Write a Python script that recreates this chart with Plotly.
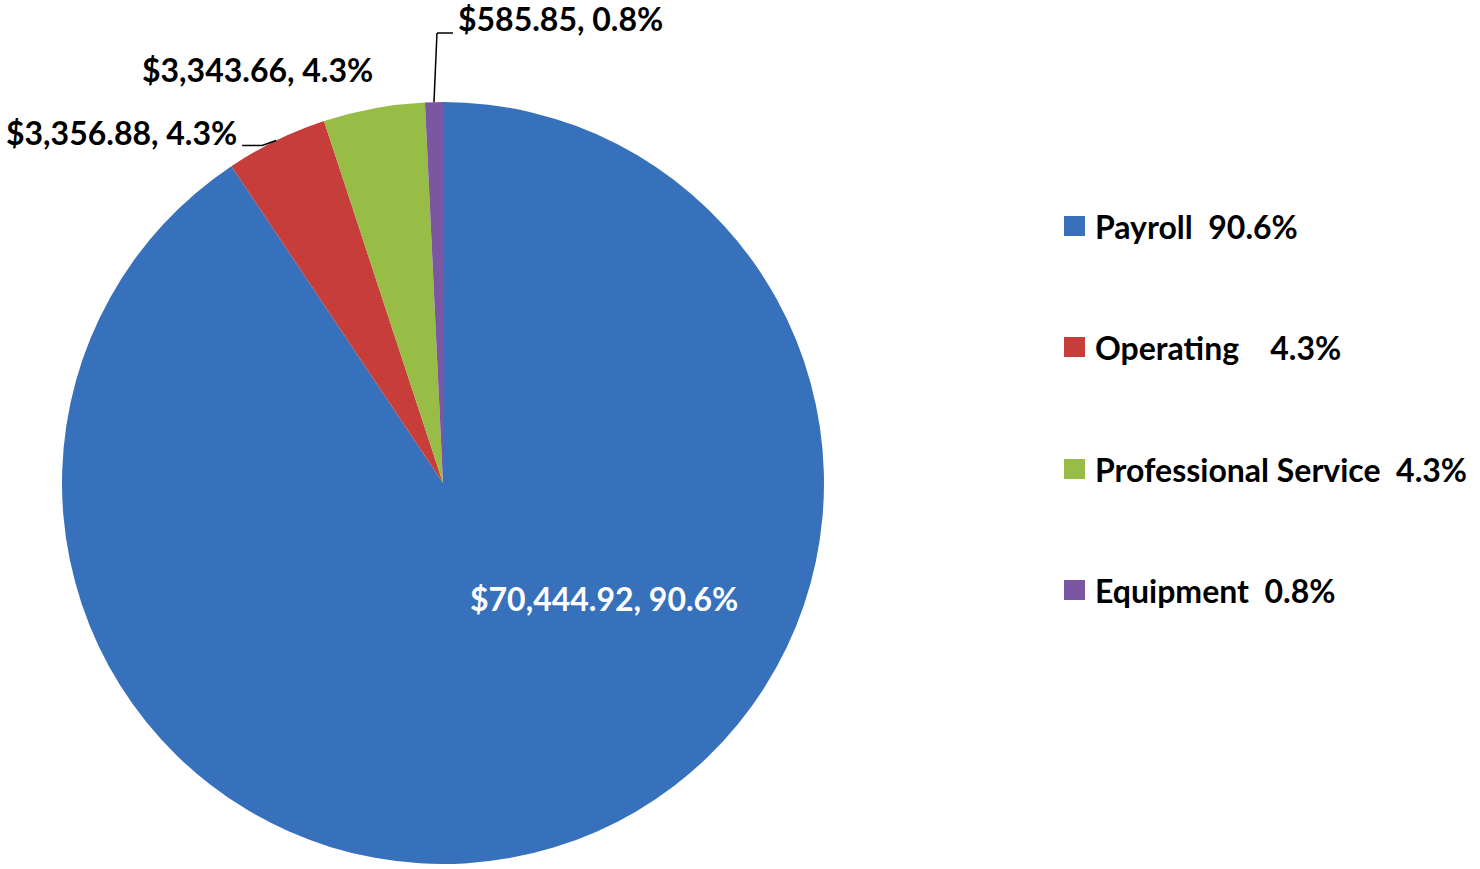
import math
import plotly.graph_objects as go

# budget breakdown
categories = ["Payroll", "Operating", "Professional Service", "Equipment"]
amounts = [70444.92, 3356.88, 3343.66, 585.85]
pct_labels = ["90.6%", "4.3%", "4.3%", "0.8%"]
legend_gaps = ["\u00a0\u00a0", "\u00a0\u00a0\u00a0\u00a0", "\u00a0\u00a0", "\u00a0\u00a0"]
colors = ["#3771BC", "#C63D3A", "#97BD47", "#7A56A3"]

W, H = 1480, 869
cx, cy, R = 443, 483, 381
FONT = "Lato"
FS = 32


def px(x, y):
    return x / W, 1 - y / H


def edge(frac, r=R):
    t = 2 * math.pi * frac
    return cx + r * math.sin(t), cy - r * math.cos(t)


def label(x, y, text, anchor, color="black"):
    p = px(x, y)
    return dict(x=p[0], y=p[1], text=text, showarrow=False,
                xanchor=anchor, yanchor="middle",
                font=dict(color=color, size=FS, family=FONT, weight="bold"))


def leader(pts):
    out = []
    for (ax, ay), (bx, by) in zip(pts[:-1], pts[1:]):
        p, q = px(ax, ay), px(bx, by)
        out.append(dict(type="line", xref="paper", yref="paper", x0=p[0], y0=p[1],
                        x1=q[0], y1=q[1], line=dict(color="black", width=1.5)))
    return out


total = sum(amounts)
mids = []
acc = 0
for a in amounts:
    mids.append((acc + a / 2) / total)
    acc += a

x0, y1 = px(cx - R, cy - R)
x1, y0 = px(cx + R, cy + R)

fig = go.Figure()
fig.add_trace(go.Pie(
    labels=categories,
    values=amounts,
    sort=False,
    direction="clockwise",
    rotation=0,
    marker=dict(colors=colors, line=dict(width=0)),
    textinfo="none",
    hoverinfo="label+value+percent",
    showlegend=False,
    domain=dict(x=[x0, x1], y=[y0, y1]),
))

texts = ["${:,.2f}, {}".format(a, p) for a, p in zip(amounts, pct_labels)]
annots = []
shapes = []

# payroll label inside the big slice
annots.append(label(604, 598, texts[0], "center", "white"))

# operating: short leader line to the left
ex, ey = edge(mids[1])
pts = [(ex, ey), (ex - 14, ey + 5), (ex - 34, ey + 5)]
shapes += leader(pts)
annots.append(label(pts[-1][0] - 3, 133, texts[1], "right"))

# professional service: label just above the slice
ex, ey = edge(mids[2])
annots.append(label(ex + 1, 70, texts[2], "right"))

# equipment: leader going up then right
ex, ey = edge(mids[3])
pts = [(ex, ey), (ex + 3, 33), (ex + 19, 33)]
shapes += leader(pts)
annots.append(label(pts[-1][0] + 3, 18, texts[3], "left"))

# legend built by hand to get the wide row spacing
row_y = [226, 347, 469, 590]
for name, gap, pct, col, yy in zip(categories, legend_gaps, pct_labels, colors, row_y):
    a, b = px(1064, yy - 10)
    c, d = px(1085, yy + 10)
    shapes.append(dict(type="rect", xref="paper", yref="paper", x0=a, y0=d, x1=c, y1=b,
                       fillcolor=col, line=dict(width=0)))
    annots.append(label(1093, yy, name + gap + pct, "left"))

fig.update_layout(
    width=W, height=H,
    margin=dict(l=0, r=0, t=0, b=0),
    paper_bgcolor="white",
    plot_bgcolor="white",
    annotations=annots,
    shapes=shapes,
)

fig.write_html("out.html", config={"displayModeBar": False},
               post_script="document.body.style.margin='0';")
